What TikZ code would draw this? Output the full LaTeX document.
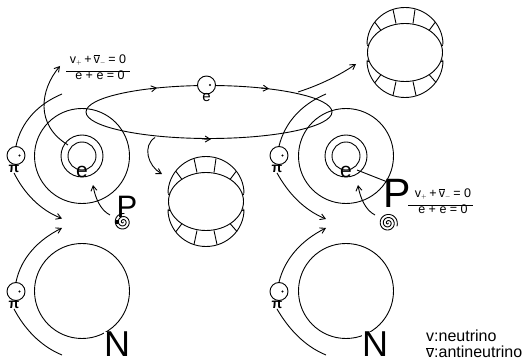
\documentclass[tikz,border=0pt]{standalone}
\usepackage{fontspec}
\setmainfont{Liberation Sans}
\usetikzlibrary{arrows.meta,shapes.geometric}
\newcommand{\ovl}[1]{$\overline{\hbox{#1}}$}
\tikzset{
  ln/.style={line width=0.9pt,black},
  arr/.style={ln,-{Straight Barb[length=5pt,width=6pt,line width=0.9pt]}},
  bigc/.style={draw,ln,circle,minimum size=95pt,inner sep=0},
  midc/.style={draw,ln,circle,minimum size=42pt,inner sep=0},
  innc/.style={draw,ln,circle,minimum size=28pt,inner sep=0},
  ball/.style={draw,ln,circle,fill=white,minimum size=18pt,inner sep=0},
  ctr/.style={fill=black,circle,inner sep=0,minimum size=2.4pt},
  lbl/.style={inner sep=0,font=\fontsize{12.5}{12.5}\selectfont},
  ee/.style={inner sep=0,font=\fontsize{21}{21}\selectfont},
  pisym/.style={inner sep=0,font=\bfseries\fontsize{14}{14}\selectfont},
  bigN/.style={inner sep=0,font=\fontsize{36}{36}\selectfont},
  leg/.style={inner sep=0,anchor=west,font=\fontsize{16}{16}\selectfont},
  torus/.pic={
    \draw[ln] (-38,-8) arc[start angle=180,end angle=360,x radius=38,y radius=37];
    \draw[ln] (-38,8) arc[start angle=180,end angle=0,x radius=38,y radius=37];
    \draw[ln] (0,0) ellipse[x radius=37.5,y radius=29];
    \foreach \a/\b/\c/\d in {-12/-43/-9/-29, 10/-43/8/-29, -30/-30/-24/-22, 30/-30/24/-22,
      -24/22/-30/30, 24/22/31/30, -9/29/-12/43, 8/29/11/43}
      {\draw[ln] (\a,\b) -- (\c,\d);}
    \foreach \sx in {-37,37} \foreach \sy in {-8,8}
      {\fill (\sx,\sy-1.5) -- (\sx-1,\sy+1.5) -- (\sx+1,\sy+1.5) -- cycle;}
  }
}
\begin{document}
\begin{tikzpicture}[x=1pt,y=-1pt]
\useasboundingbox (0,0) rectangle (525,363);
% left proton
\node[bigc] (PL) at (82,156) {};
\node[midc] (PLm) at (82,156) {};
\node[innc] (PLi) at (82,156) {};
\node[ee] (eL) at (82,172) {e};
% right proton
\node[bigc] (PR) at (346,156) {};
\node[midc] (PRm) at (346,156) {};
\node[innc] (PRi) at (346,156) {};
\node[ee] (eR) at (346,172) {e};
% neutrons
\node[bigc] (NL) at (82,291) {};
\node[bigc] (NR) at (346,291) {};
\node[bigN,fill=white] (NLt) at (117,344) {N};
\node[bigN,fill=white] (NRt) at (375,344) {N};
% big ellipse
\node[draw,ln,ellipse,minimum width=246pt,minimum height=53pt,inner sep=0] (orb) at (209,112) {};
% free ends
\coordinate (a1) at (62,94);
\coordinate (a2) at (62,218.5);
\coordinate (a3) at (62,228);
\coordinate (a4) at (62,355);
\coordinate (b1) at (326,94);
\coordinate (b2) at (326,219);
\coordinate (b3) at (326,228);
\coordinate (b4) at (326,355);
\coordinate (f1) at (60,66);
\coordinate (f2) at (68,145);
\coordinate (t1) at (298,92);
\coordinate (t2) at (356,64);
\coordinate (t3) at (155,137.5);
\coordinate (t4) at (162,174);
\coordinate (s1) at (110,215);
\coordinate (s2) at (93,185);
\coordinate (s3) at (375,215);
\coordinate (s4) at (358,185);
\coordinate (l1) at (357,170);
\coordinate (l2) at (390,183);
% balls
\node[ball] (bL1) at (16,155.5) {};
\node[ball] (bL2) at (16,291.5) {};
\node[ball] (bR1) at (279,155.5) {};
\node[ball] (bR2) at (279,291.5) {};
\node[ball] (bT) at (206.5,85) {};
\foreach \n in {bL1,bL2,bR1,bR2,bT} {\node[ctr] at ([xshift=3.5pt]\n.center) {};}
\node[pisym] (pi1) at (14,169) {π};
\node[pisym] (pi2) at (14,305) {π};
\node[pisym] (pi3) at (277,169) {π};
\node[pisym] (pi4) at (277,305) {π};
\node[inner sep=0,font=\fontsize{15}{15}\selectfont] (eT) at (206.5,98) {e};
% connectors
\draw[ln] (bL1.north) .. controls (21,122) and (38,104) .. (a1);
\draw[arr] (pi1.south) .. controls (24,193) and (40,210) .. (a2);
\draw[arr] (bL2.north) .. controls (21,258) and (38,240) .. (a3);
\draw[ln] (pi2.south) .. controls (24,328) and (40,346) .. (a4);
\draw[ln] (bR1.north) .. controls (285,122) and (302,104) .. (b1);
\draw[arr] (pi3.south) .. controls (288,193) and (304,210) .. (b2);
\draw[arr] (bR2.north) .. controls (285,258) and (302,240) .. (b3);
\draw[ln] (pi4.south) .. controls (288,328) and (304,346) .. (b4);
\draw[arr] (f2) .. controls (35,125) and (40,90) .. (f1);
\draw[arr] (t1) .. controls (320,85) and (340,75) .. (t2);
\draw[arr] (t3) .. controls (142,146) and (148,166) .. (t4);
\draw[arr] (s1) .. controls (100,210) and (95,197) .. (s2);
\draw[arr] (s3) .. controls (365,210) and (360,197) .. (s4);
\draw[ln] (l1) -- (l2);
% arrows along the ellipse
\draw[arr] (150,89) -- (157,87.8);
\draw[arr] (202,139) -- (211,139.2);
\draw[arr] (261,88) -- (269,88.7);
% spirals
\draw[ln] plot[domain=0:1000,samples=90,smooth] ({123+8.6*\x/1000*cos(\x)},{222+8.6*\x/1000*sin(\x)});
\fill (117,222) circle[radius=2.2];
\draw[ln] plot[domain=0:1100,samples=90,smooth] ({388+9.5*\x/1100*cos(\x)},{223+9.5*\x/1100*sin(\x)});
% P labels
\node[inner sep=0,font=\fontsize{31}{31}\selectfont] (PLt) at (127,207) {P};
\node[inner sep=0,font=\fontsize{41}{41}\selectfont] (PRt) at (397,193) {P};
% tori
\pic at (405,52.5) {torus};
\pic at (206,201.5) {torus};
% formulas
\node[lbl] (fa) at (98,60) {v$_{\scriptscriptstyle +}$\,+\,\ovl{v}$_{\scriptscriptstyle -}$\,= 0};
\node[lbl] (fb) at (100,75) {e + \ovl{e} = 0};
\draw[ln] (66,71) -- (130,71);
\node[lbl] (fc) at (443,194) {v$_{\scriptscriptstyle +}$\,+\,\ovl{v}$_{\scriptscriptstyle -}$\,= 0};
\node[lbl] (fd) at (443,209) {e + \ovl{e} = 0};
\draw[ln] (408,205) -- (473,205);
% legend
\node[leg] (n1) at (426,336) {v:neutrino};
\node[leg] (n2) at (426,352) {\ovl{v}:antineutrino};
\end{tikzpicture}
\end{document}
